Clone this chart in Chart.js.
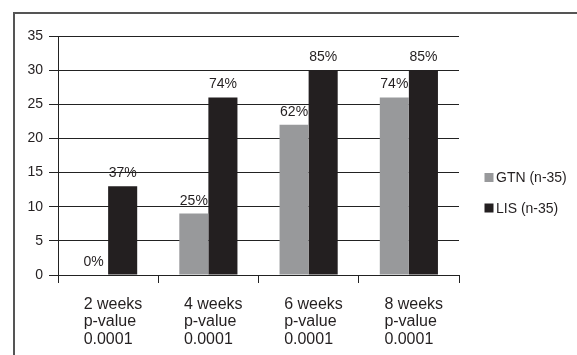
<!DOCTYPE html>
<html>
<head>
<meta charset="utf-8">
<script src="https://cdn.jsdelivr.net/npm/chart.js@4/dist/chart.umd.min.js"></script>
<style>
  html, body { margin: 0; padding: 0; background: #fff; }
  canvas { display: block; }
</style>
</head>
<body>
<canvas id="chart" width="577" height="355"></canvas>
<script>
// Data
const weeks = ['2 weeks', '4 weeks', '6 weeks', '8 weeks'];
const pValues = ['0.0001', '0.0001', '0.0001', '0.0001'];
const gtnValues = [0, 9, 22, 26];
const lisValues = [13, 26, 30, 30];
const gtnPercent = ['0%', '25%', '62%', '74%'];
const lisPercent = ['37%', '74%', '85%', '85%'];
const yTicks = [0, 5, 10, 15, 20, 25, 30, 35];

const FONT = '"Liberation Sans", Arial, sans-serif';
const TEXT = '#231f20';

document.addEventListener('DOMContentLoaded', function() {
    const ctx = document.getElementById('chart').getContext('2d');

    // white page + outer frame running off the right and bottom edges
    const framePlugin = {
        id: 'frame',
        beforeDraw(chart) {
            const c = chart.ctx;
            c.save();
            c.fillStyle = '#fff';
            c.fillRect(0, 0, chart.width, chart.height);
            c.strokeStyle = '#555';
            c.lineWidth = 2;
            c.strokeRect(14, 13, chart.width + 20, chart.height + 20);
            c.restore();
        }
    };

    // percentage labels, drawn under the bars so the neighbour bar can cover them
    const percentPlugin = {
        id: 'percents',
        beforeDatasetsDraw(chart) {
            const c = chart.ctx;
            const texts = [gtnPercent, lisPercent];
            c.save();
            c.font = '14px ' + FONT;
            c.fillStyle = TEXT;
            c.textAlign = 'center';
            c.textBaseline = 'alphabetic';
            chart.data.datasets.forEach((ds, d) => {
                chart.getDatasetMeta(d).data.forEach((bar, i) => {
                    c.fillText(texts[d][i], bar.x, bar.y - 9);
                });
            });
            c.restore();
        }
    };

    // category labels (left aligned block) and legend
    const labelsPlugin = {
        id: 'labels',
        afterDraw(chart) {
            const c = chart.ctx;
            const xs = chart.scales.x;
            const bottom = chart.chartArea.bottom;
            c.save();
            c.font = '16px ' + FONT;
            c.fillStyle = TEXT;
            c.textAlign = 'left';
            c.textBaseline = 'alphabetic';
            chart.data.labels.forEach((lines, i) => {
                const left = xs.getPixelForValue(i) - 24.5;
                lines.forEach((line, j) => {
                    c.fillText(line, left, bottom + 33.5 + j * 17.5);
                });
            });

            // legend
            c.font = '14px ' + FONT;
            c.textBaseline = 'middle';
            chart.data.datasets.forEach((ds, d) => {
                const cy = 177.5 + d * 30.5;
                c.fillStyle = ds.backgroundColor;
                c.fillRect(484.5, cy - 4.5, 9, 9);
                c.fillStyle = TEXT;
                c.fillText(ds.label, 496, cy + 1);
            });
            c.restore();
        }
    };

    new Chart(ctx, {
        type: 'bar',
        data: {
            labels: weeks.map((w, i) => [w, 'p-value', pValues[i]]),
            datasets: [
                {
                    label: 'GTN (n-35)',
                    data: gtnValues,
                    backgroundColor: '#98999b',
                    categoryPercentage: 0.58,
                    barPercentage: 1
                },
                {
                    label: 'LIS (n-35)',
                    data: lisValues,
                    backgroundColor: '#231f20',
                    categoryPercentage: 0.58,
                    barPercentage: 1
                }
            ]
        },
        options: {
            responsive: false,
            animation: false,
            layout: { padding: { left: 0, top: 36, right: 118, bottom: 0 } },
            plugins: {
                legend: { display: false },
                tooltip: { enabled: false }
            },
            scales: {
                x: {
                    offset: true,
                    grid: {
                        offset: true,
                        drawOnChartArea: false,
                        drawTicks: true,
                        tickLength: 8,
                        color: '#222',
                        lineWidth: 1
                    },
                    border: { color: '#222', width: 1 },
                    ticks: { display: false },
                    afterFit(scale) { scale.height = 80; }
                },
                y: {
                    min: 0,
                    max: 35,
                    afterBuildTicks(scale) {
                        scale.ticks = yTicks.map(v => ({ value: v }));
                    },
                    grid: {
                        color: '#222',
                        lineWidth: 1,
                        tickLength: 9
                    },
                    border: { color: '#222', width: 1 },
                    ticks: {
                        padding: 6,
                        color: TEXT,
                        font: { family: FONT, size: 14 }
                    },
                    afterFit(scale) { scale.width = 58; }
                }
            }
        },
        plugins: [framePlugin, percentPlugin, labelsPlugin]
    });
});
</script>
</body>
</html>
